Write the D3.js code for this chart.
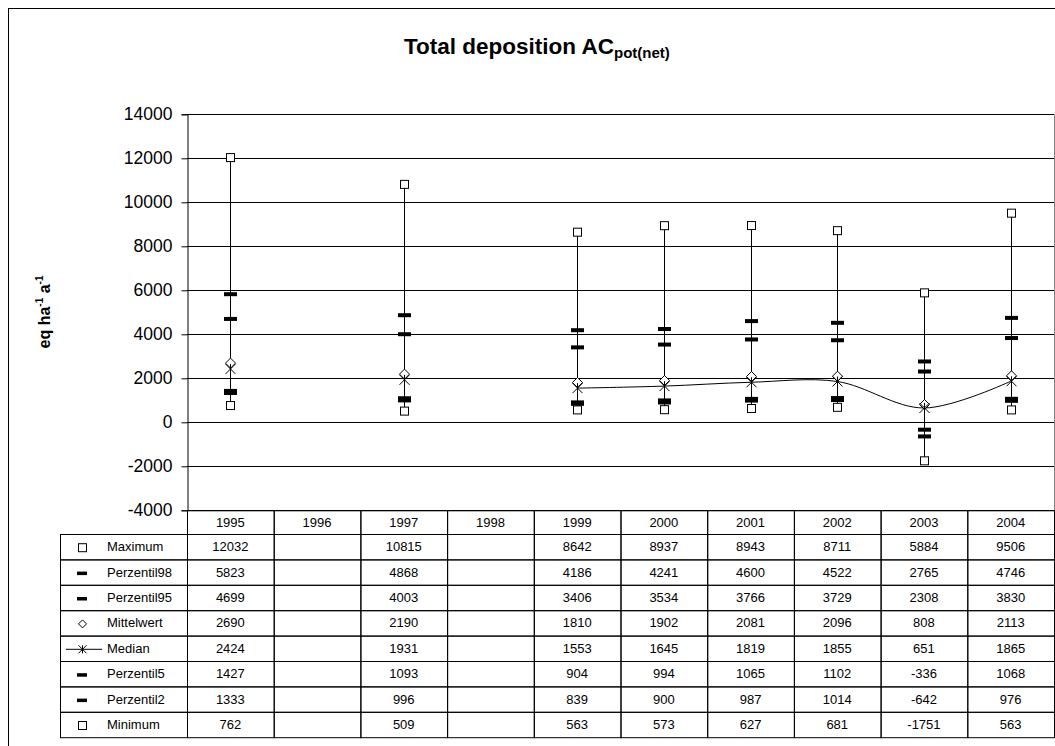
<!DOCTYPE html>
<html><head><meta charset="utf-8">
<script src="https://cdn.jsdelivr.net/npm/d3@7"></script>
<style>
html,body{margin:0;padding:0;background:#fff;}
svg{display:block;font-family:"Liberation Sans",Arial,sans-serif;}
</style></head>
<body>
<svg id="chart" width="1055" height="746"></svg>
<script>
const years = ["1995","1996","1997","1998","1999","2000","2001","2002","2003","2004"];
const maximum = [12032,null,10815,null,8642,8937,8943,8711,5884,9506];
const perzentil98 = [5823,null,4868,null,4186,4241,4600,4522,2765,4746];
const perzentil95 = [4699,null,4003,null,3406,3534,3766,3729,2308,3830];
const mittelwert = [2690,null,2190,null,1810,1902,2081,2096,808,2113];
const median = [2424,null,1931,null,1553,1645,1819,1855,651,1865];
const perzentil5 = [1427,null,1093,null,904,994,1065,1102,-336,1068];
const perzentil2 = [1333,null,996,null,839,900,987,1014,-642,976];
const minimum = [762,null,509,null,563,573,627,681,-1751,563];
const yTicks = [-4000,-2000,0,2000,4000,6000,8000,10000,12000,14000];

const series = [
  {name:"Maximum", values:maximum, sym:"square"},
  {name:"Perzentil98", values:perzentil98, sym:"dash"},
  {name:"Perzentil95", values:perzentil95, sym:"dash"},
  {name:"Mittelwert", values:mittelwert, sym:"diamond"},
  {name:"Median", values:median, sym:"star"},
  {name:"Perzentil5", values:perzentil5, sym:"dash"},
  {name:"Perzentil2", values:perzentil2, sym:"dash"},
  {name:"Minimum", values:minimum, sym:"square"}
];

const svg = d3.select("#chart");
const L = 187, R = 1054, T = 114.3, B = 510.3;
const x = d3.scaleBand().domain(years).range([L, R]).padding(0);
const y = d3.scaleLinear().domain([-4000, 14000]).range([B, T]);
const cx = d => x(d) + x.bandwidth()/2;

// outer frame
svg.append("rect").attr("x",8.5).attr("y",8.5).attr("width",1200).attr("height",900)
  .attr("fill","none").attr("stroke","#000").attr("stroke-width",1);

// title
const title = svg.append("text").attr("x",404).attr("y",54).attr("font-weight","bold")
  .attr("font-size",22.5).attr("fill","#000");
title.append("tspan").text("Total deposition AC");
title.append("tspan").attr("font-size",15).attr("dy",4).text("pot(net)");

// y-axis label
const yl = svg.append("text").attr("transform","translate(50,312) rotate(-90)")
  .attr("text-anchor","middle").attr("font-weight","bold").attr("font-size",16).attr("fill","#000");
yl.append("tspan").text("eq ha");
yl.append("tspan").attr("font-size",10).attr("dy",-7).text("-1");
yl.append("tspan").attr("dy",7).text(" a");
yl.append("tspan").attr("font-size",10).attr("dy",-7).text("-1");

// gridlines
svg.append("g").selectAll("line").data(yTicks).join("line")
  .attr("x1",L).attr("x2",R).attr("y1",d=>Math.round(y(d))+0.5).attr("y2",d=>Math.round(y(d))+0.5)
  .attr("stroke","#000").attr("stroke-width",1);
// right border
svg.append("line").attr("x1",R+0.5).attr("x2",R+0.5).attr("y1",T).attr("y2",B).attr("stroke","#808080");

// y axis
const yAxis = d3.axisLeft(y).tickValues(yTicks).tickSize(6).tickPadding(9).tickFormat(d => String(d));
const ga = svg.append("g").attr("transform",`translate(${L+0.5},0)`).call(yAxis);
ga.select(".domain").attr("stroke","#000");
ga.selectAll(".tick line").attr("stroke","#000");
ga.selectAll(".tick text").attr("font-size",17.5).attr("fill","#000")
  .attr("font-family","'Liberation Sans',Arial,sans-serif");

// high-low lines
const idx = d3.range(years.length).filter(i => maximum[i] !== null);
svg.append("g").selectAll("line").data(idx).join("line")
  .attr("x1",i=>Math.round(cx(years[i]))+0.5).attr("x2",i=>Math.round(cx(years[i]))+0.5)
  .attr("y1",i=>y(maximum[i])).attr("y2",i=>y(minimum[i]))
  .attr("stroke","#000").attr("stroke-width",1);

// median line: connect only consecutive non-null points
const medPts = years.map((c,i)=>({c, v:median[i]}));
let runs = [], cur = [];
medPts.forEach(p => { if (p.v === null) { if (cur.length) runs.push(cur); cur = []; } else cur.push(p); });
if (cur.length) runs.push(cur);
const lineGen = d3.line().x(d=>cx(d.c)).y(d=>y(d.v)).curve(d3.curveCatmullRom.alpha(0.5));
svg.append("g").selectAll("path").data(runs.filter(r=>r.length>1)).join("path")
  .attr("d", lineGen).attr("fill","none").attr("stroke","#000").attr("stroke-width",1);

// marker drawing
function drawSym(g, sym, px, py) {
  if (sym === "square") {
    g.append("rect").attr("x",px-4).attr("y",py-4).attr("width",8).attr("height",8)
      .attr("fill","#fff").attr("stroke","#000").attr("stroke-width",1);
  } else if (sym === "dash") {
    g.append("rect").attr("x",px-6.5).attr("y",py-2).attr("width",13).attr("height",4).attr("fill","#000");
  } else if (sym === "diamond") {
    g.append("path").attr("d",`M${px},${py-5}L${px+5},${py}L${px},${py+5}L${px-5},${py}Z`)
      .attr("fill","#fff").attr("stroke","#000").attr("stroke-width",1);
  } else if (sym === "star") {
    g.append("path").attr("d",`M${px-5},${py-5}L${px+5},${py+5}M${px-5},${py+5}L${px+5},${py-5}M${px},${py-5}L${px},${py+5}`)
      .attr("fill","none").attr("stroke","#000").attr("stroke-width",1);
  }
}
const markG = svg.append("g");
const order = [1,2,5,6,0,7,3,4];
order.forEach(si => {
  const s = series[si];
  s.values.forEach((v,i) => {
    if (v === null) return;
    drawSym(markG, s.sym, Math.round(cx(years[i]))+0.5, y(v));
  });
});

// table
const tTop = 534, rowH = 25.4, tLeft = 60;
const tb = svg.append("g");
tb.append("g").selectAll("rect").data(years).join("rect")
  .attr("x",d=>x(d)+0.5).attr("y",B+0.5).attr("width",x.bandwidth()).attr("height",tTop-B)
  .attr("fill","none").attr("stroke","#000").attr("stroke-width",1);
tb.append("g").selectAll("text").data(years).join("text")
  .attr("x",d=>cx(d)).attr("y",527).attr("text-anchor","middle").attr("font-size",13).attr("fill","#000").text(d=>d);

series.forEach((s,r) => {
  const ry = tTop + r*rowH;
  tb.append("rect").attr("x",tLeft+0.5).attr("y",ry+0.5).attr("width",L-tLeft).attr("height",rowH)
    .attr("fill","none").attr("stroke","#000").attr("stroke-width",1);
  tb.append("text").attr("x",107).attr("y",ry+rowH/2+4.5).attr("font-size",13).attr("fill","#000").text(s.name);
  const sy = ry + rowH/2 + 1;
  if (s.sym === "square") {
    tb.append("rect").attr("x",78.5).attr("y",sy-4).attr("width",8).attr("height",8)
      .attr("fill","#fff").attr("stroke","#000");
  } else if (s.sym === "dash") {
    tb.append("rect").attr("x",77).attr("y",sy-1.5).attr("width",10).attr("height",3.5).attr("fill","#000");
  } else if (s.sym === "diamond") {
    tb.append("path").attr("d",`M82.5,${sy-4}L86.5,${sy}L82.5,${sy+4}L78.5,${sy}Z`)
      .attr("fill","#fff").attr("stroke","#000");
  } else if (s.sym === "star") {
    tb.append("line").attr("x1",66).attr("x2",102).attr("y1",sy).attr("y2",sy).attr("stroke","#000");
    tb.append("path").attr("d",`M78.5,${sy-4}L86.5,${sy+4}M78.5,${sy+4}L86.5,${sy-4}M82.5,${sy-4}L82.5,${sy+4}`)
      .attr("stroke","#000").attr("fill","none");
  }
  years.forEach((c,i) => {
    tb.append("rect").attr("x",x(c)+0.5).attr("y",ry+0.5).attr("width",x.bandwidth()).attr("height",rowH)
      .attr("fill","none").attr("stroke","#000").attr("stroke-width",1);
    if (s.values[i] !== null) {
      tb.append("text").attr("x",cx(c)).attr("y",ry+rowH/2+4.5).attr("text-anchor","middle")
        .attr("font-size",13).attr("fill","#000").text(s.values[i]);
    }
  });
});
</script>
</body></html>
